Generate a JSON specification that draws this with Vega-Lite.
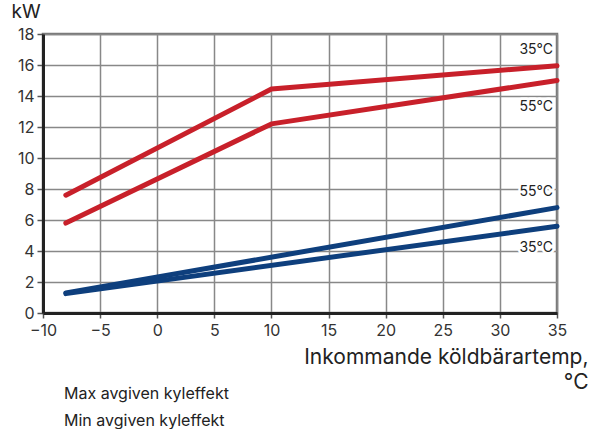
{
  "$schema": "https://vega.github.io/schema/vega-lite/v6.json",
  "width": 514,
  "height": 279,
  "autosize": {"type": "none"},
  "padding": {"left": 43, "top": 34, "right": 37, "bottom": 116},
  "background": "white",
  "config": {
    "font": "Inter",
    "view": {"stroke": "#777", "strokeWidth": 2.5},
    "axis": {"labelFont": "Inter", "titleFont": "Inter"}
  },
  "datasets": {
    "lines": [
      {"x": -8, "y": 7.6, "serie": "max35", "typ": "Max avgiven kyleffekt"},
      {"x": 10, "y": 14.45, "serie": "max35", "typ": "Max avgiven kyleffekt"},
      {"x": 35, "y": 15.95, "serie": "max35", "typ": "Max avgiven kyleffekt"},
      {"x": -8, "y": 5.8, "serie": "max55", "typ": "Max avgiven kyleffekt"},
      {"x": 10, "y": 12.2, "serie": "max55", "typ": "Max avgiven kyleffekt"},
      {"x": 35, "y": 15.0, "serie": "max55", "typ": "Max avgiven kyleffekt"},
      {"x": -8, "y": 1.3, "serie": "min55", "typ": "Min avgiven kyleffekt"},
      {"x": 35, "y": 6.8, "serie": "min55", "typ": "Min avgiven kyleffekt"},
      {"x": -8, "y": 1.25, "serie": "min35", "typ": "Min avgiven kyleffekt"},
      {"x": 35, "y": 5.6, "serie": "min35", "typ": "Min avgiven kyleffekt"}
    ],
    "labels": [
      {"x": 35, "y": 16.95, "label": "35°C"},
      {"x": 35, "y": 13.3, "label": "55°C"},
      {"x": 35, "y": 7.8, "label": "55°C"},
      {"x": 35, "y": 4.2, "label": "35°C"}
    ]
  },
  "encoding": {
    "x": {
      "field": "x", "type": "quantitative",
      "scale": {"domain": [-10, 35], "nice": false, "zero": false},
      "axis": {
        "values": [-10, -5, 0, 5, 10, 15, 20, 25, 30, 35],
        "grid": true, "gridColor": "#888", "gridWidth": 1.5, "gridOpacity": 1,
        "domainColor": "#222", "domainWidth": 3,
        "tickColor": "#555", "tickSize": 5, "tickWidth": 1.5,
        "labelFontSize": 16, "labelColor": "#333", "labelPadding": 4,
        "labelOverlap": false, "labelFlush": false, "labelBound": false,
        "title": ["Inkommande köldbärartemp,", "°C"],
        "titleFontSize": 21, "titleFontWeight": "normal", "titleColor": "#222",
        "titleAlign": "right", "titleAnchor": "end", "titleBaseline": "alphabetic",
        "titleX": 545, "titleY": 50, "titleLineHeight": 25
      }
    },
    "y": {
      "field": "y", "type": "quantitative",
      "scale": {"domain": [0, 18], "nice": false},
      "axis": {
        "values": [0, 2, 4, 6, 8, 10, 12, 14, 16, 18],
        "grid": true, "gridColor": "#888", "gridWidth": 1.5, "gridOpacity": 1,
        "domainColor": "#222", "domainWidth": 3,
        "tickColor": "#555", "tickSize": 6, "tickWidth": 1.5,
        "labelFontSize": 16, "labelColor": "#333", "labelPadding": 3,
        "labelOverlap": false, "labelFlush": false, "labelBound": false,
        "title": "kW", "titleAngle": 0, "titleFontSize": 19, "titleFontWeight": "normal",
        "titleColor": "#222", "titleAlign": "left", "titleBaseline": "alphabetic",
        "titleX": -32, "titleY": -17
      }
    }
  },
  "layer": [
    {
      "data": {"name": "lines"},
      "mark": {"type": "line", "strokeWidth": 5, "strokeCap": "round", "strokeJoin": "round"},
      "encoding": {
        "detail": {"field": "serie"},
        "color": {
          "field": "typ", "type": "nominal",
          "scale": {"domain": ["Max avgiven kyleffekt", "Min avgiven kyleffekt"], "range": ["#c8202a", "#0e3f7d"]},
          "legend": {
            "orient": "none", "legendX": 1, "legendY": 352,
            "title": null, "symbolSize": 0, "symbolOpacity": 0, "symbolStrokeWidth": 0,
            "labelFontSize": 16, "labelColor": "#222", "rowPadding": 11, "labelOffset": 4,
            "labelLimit": 400
          }
        }
      }
    },
    {
      "data": {"name": "labels"},
      "mark": {"type": "text", "align": "right", "baseline": "middle", "dx": -4, "fontSize": 14, "stroke": "white", "strokeWidth": 5, "strokeJoin": "round"},
      "encoding": {
        "text": {"field": "label"}
      }
    },
    {
      "data": {"name": "labels"},
      "mark": {"type": "text", "align": "right", "baseline": "middle", "dx": -4, "fontSize": 14, "color": "#222"},
      "encoding": {
        "text": {"field": "label"}
      }
    }
  ]
}
